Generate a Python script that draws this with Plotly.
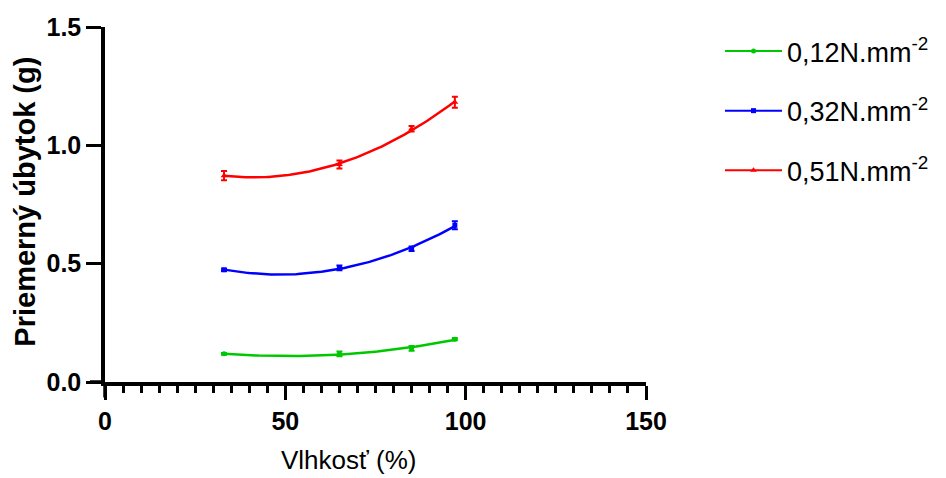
import numpy as np
import plotly.graph_objects as go

# ---- data ----
vlhkost = [33, 65, 85, 97]
names = ["0,12N.mm<sup>-2</sup>", "0,32N.mm<sup>-2</sup>", "0,51N.mm<sup>-2</sup>"]
y_012 = [0.119, 0.119, 0.142, 0.181]
e_012 = [0.004, 0.010, 0.010, 0.005]
y_032 = [0.474, 0.482, 0.563, 0.662]
e_032 = [0.005, 0.010, 0.010, 0.017]
y_051 = [0.872, 0.919, 1.070, 1.182]
e_051 = [0.020, 0.017, 0.012, 0.023]
x_ticks = [0, 50, 100, 150]
y_ticks = [0.0, 0.5, 1.0, 1.5]
y_ticklabels = ["0.0", "0.5", "1.0", "1.5"]

series = [
    (names[0], y_012, e_012, "rgb(0,200,0)", "circle", 5),
    (names[1], y_032, e_032, "rgb(0,0,255)", "square", 5),
    (names[2], y_051, e_051, "rgb(255,0,0)", "triangle-up", 6),
]

FONT = "Arial, Liberation Sans, sans-serif"
fig = go.Figure()

for i, (nm, ys, es, col, sym, ms) in enumerate(series):
    # second-order polynomial fit, like the original
    coef = np.polyfit(vlhkost, ys, 2)
    xf = np.linspace(min(vlhkost), max(vlhkost), 120)
    yf = np.polyval(coef, xf)
    fig.add_trace(go.Scatter(x=xf, y=yf, mode="lines", line=dict(color=col, width=2.5),
                             showlegend=False, hoverinfo="skip"))
    fig.add_trace(go.Scatter(x=vlhkost, y=ys, mode="markers",
                             marker=dict(color=col, symbol=sym, size=ms),
                             error_y=dict(type="data", array=es, visible=True, color=col,
                                          thickness=2, width=3),
                             showlegend=False))
    fig.add_trace(go.Scatter(x=[None], y=[None], mode="lines+markers", name=nm,
                             legendgroup="g%d" % i,
                             line=dict(color=col, width=2),
                             marker=dict(color=col, symbol=sym, size=ms)))

# layout geometry (figure placed at 8px page offset)
W, H = 938, 470
L, R, T, B = 97, 10, 19, 96
PW = W - L - R           # width of plotting region
XW = 541                 # width of the x axis in px
XD = XW / PW             # x-axis domain end
YH = H - T - B           # axis height

axis_common = dict(showline=True, linecolor="black", linewidth=3.5, ticks="outside",
                   tickcolor="black", tickwidth=3, showgrid=False, zeroline=False,
                   automargin=False,
                   tickfont=dict(family=FONT, size=25, color="black", weight="bold"))

fig.update_xaxes(range=[0, 150], tickvals=x_ticks, ticklen=14, domain=[0, XD],
                 minor=dict(dtick=5, ticklen=7, tickwidth=2.5, tickcolor="black", ticks="outside"),
                 **axis_common)
fig.update_yaxes(range=[0, 1.5], tickvals=y_ticks, ticktext=y_ticklabels, ticklen=15,
                 **axis_common)

# axis extensions (GraphPad-style crossing)
fig.add_shape(type="line", xref="paper", yref="paper", x0=-15/PW, x1=0, y0=0, y1=0,
              line=dict(color="black", width=3.5), layer="above")
fig.add_shape(type="line", xref="paper", yref="paper", x0=0, x1=0, y0=-15.5/YH, y1=0,
              line=dict(color="black", width=3.5), layer="above")

fig.add_annotation(text="<b>Priemerný úbytok (g)</b>", xref="paper", yref="paper",
                   x=-80/PW, y=0.508, textangle=-90, showarrow=False,
                   xanchor="center", yanchor="middle",
                   font=dict(family=FONT, size=29, color="black"))
fig.add_annotation(text="Vlhkosť (%)", xref="paper", yref="paper",
                   x=243/PW, y=-77.5/YH, showarrow=False,
                   xanchor="center", yanchor="middle",
                   font=dict(family=FONT, size=26, color="black"))

fig.update_layout(
    width=W, height=H,
    margin=dict(l=L, r=R, t=T, b=B, pad=0),
    plot_bgcolor="white", paper_bgcolor="white",
    legend=dict(x=(720-105)/PW, y=1.0, xanchor="left", yanchor="top",
                font=dict(family=FONT, size=27, color="black"),
                traceorder="grouped", tracegroupgap=21.5, itemwidth=57,
                bgcolor="rgba(0,0,0,0)"),
)

fig.write_html("out.html")
